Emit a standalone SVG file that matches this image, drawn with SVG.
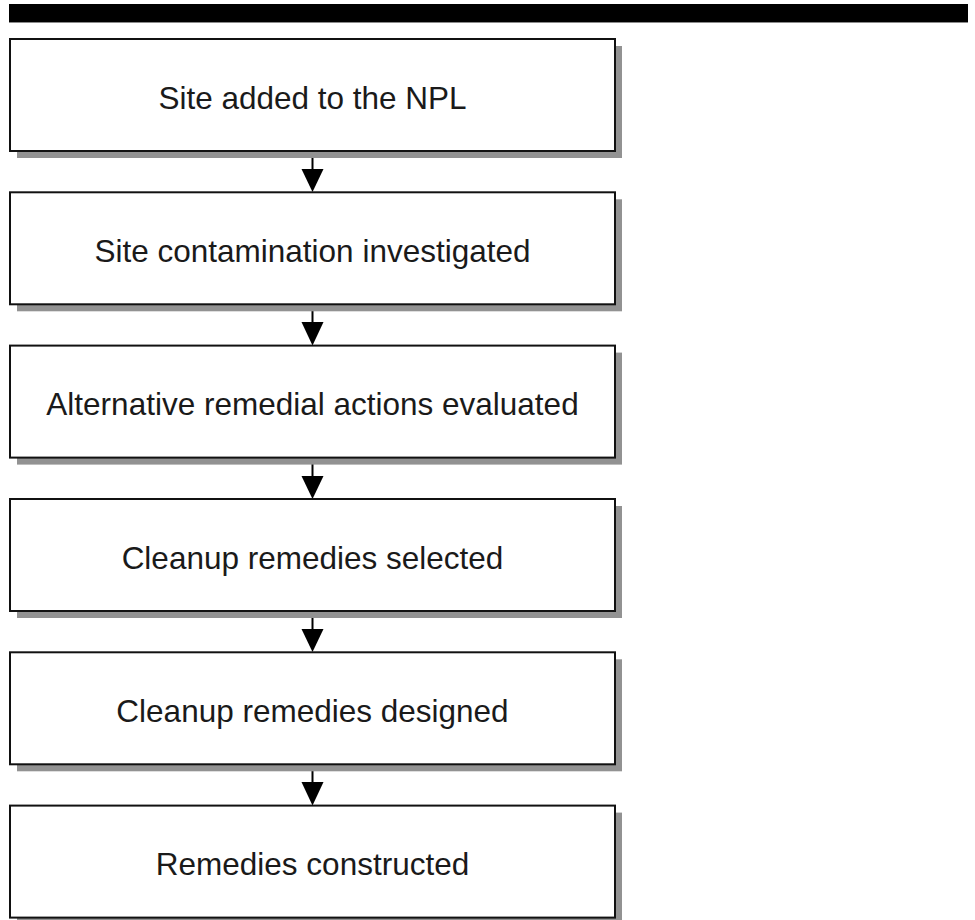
<svg xmlns="http://www.w3.org/2000/svg" width="975" height="920" viewBox="0 0 975 920">
<defs>
<style>
.shadow{fill:#929292;}
.box{fill:#ffffff;stroke:#111111;stroke-width:2;}
.label{font-family:"Liberation Sans",Arial,sans-serif;font-size:31.5px;fill:#1a1a1a;text-anchor:middle;}
.conn{stroke:#000000;stroke-width:2;fill:none;}
.head{fill:#000000;}
</style>
</defs>
<rect width="975" height="920" fill="#ffffff"/>
<g id="topbar">
<rect x="9" y="21" width="959" height="2" fill="#8a8a8a"/>
<rect x="9" y="4" width="959" height="18" fill="#000000"/>
</g>
<g id="connectors">
<line class="conn" x1="312.5" y1="151" x2="312.5" y2="170"/>
<polygon class="head" points="301.5,169 323.5,169 312.5,192"/>
<line class="conn" x1="312.5" y1="304" x2="312.5" y2="323"/>
<polygon class="head" points="301.5,322 323.5,322 312.5,345.5"/>
<line class="conn" x1="312.5" y1="457.5" x2="312.5" y2="477"/>
<polygon class="head" points="301.5,476 323.5,476 312.5,499"/>
<line class="conn" x1="312.5" y1="611" x2="312.5" y2="630"/>
<polygon class="head" points="301.5,629 323.5,629 312.5,652"/>
<line class="conn" x1="312.5" y1="764" x2="312.5" y2="783"/>
<polygon class="head" points="301.5,782 323.5,782 312.5,805.5"/>
</g>
<g id="node1">
<rect class="shadow" x="17" y="46" width="605" height="112"/>
<rect class="box" x="10" y="39" width="605" height="112"/>
<text class="label" x="312.5" y="108.5">Site added to the NPL</text>
</g>
<g id="node2">
<rect class="shadow" x="17" y="199.3" width="605" height="112"/>
<rect class="box" x="10" y="192.3" width="605" height="112"/>
<text class="label" x="312.5" y="261.8">Site contamination investigated</text>
</g>
<g id="node3">
<rect class="shadow" x="17" y="352.6" width="605" height="112"/>
<rect class="box" x="10" y="345.6" width="605" height="112"/>
<text class="label" x="312.5" y="415.1">Alternative remedial actions evaluated</text>
</g>
<g id="node4">
<rect class="shadow" x="17" y="506" width="605" height="112"/>
<rect class="box" x="10" y="499" width="605" height="112"/>
<text class="label" x="312.5" y="568.5">Cleanup remedies selected</text>
</g>
<g id="node5">
<rect class="shadow" x="17" y="659.3" width="605" height="112"/>
<rect class="box" x="10" y="652.3" width="605" height="112"/>
<text class="label" x="312.5" y="721.8">Cleanup remedies designed</text>
</g>
<g id="node6">
<rect class="shadow" x="17" y="812.6" width="605" height="112"/>
<rect class="box" x="10" y="805.6" width="605" height="112"/>
<text class="label" x="312.5" y="875.1">Remedies constructed</text>
</g>
</svg>
